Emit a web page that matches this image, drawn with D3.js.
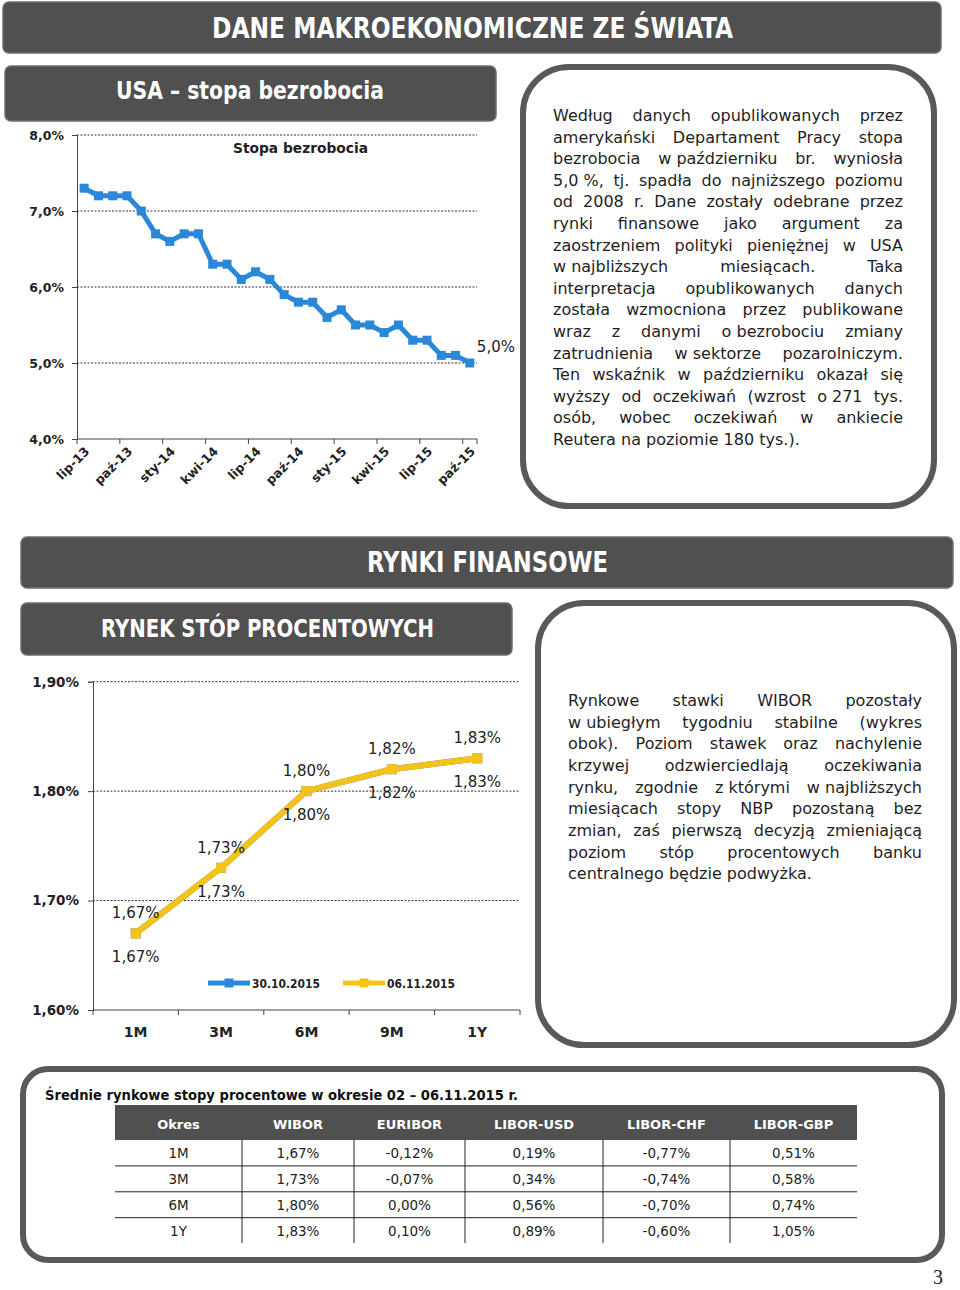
<!DOCTYPE html>
<html>
<head>
<meta charset="utf-8">
<script src="https://cdn.jsdelivr.net/npm/d3@7"></script>
<style>
  html, body { margin: 0; padding: 0; background: #fff; }
  #page { position: relative; width: 960px; height: 1290px; background: #fff; overflow: hidden; }
</style>
</head>
<body>
<div id="page"></div>
<script>
// ---------------- DATA ----------------
const usaMonths = ["lip-13","sie-13","wrz-13","paź-13","lis-13","gru-13","sty-14","lut-14","mar-14","kwi-14","maj-14","cze-14","lip-14","sie-14","wrz-14","paź-14","lis-14","gru-14","sty-15","lut-15","mar-15","kwi-15","maj-15","cze-15","lip-15","sie-15","wrz-15","paź-15"];
const usaRate = [7.3,7.2,7.2,7.2,7.0,6.7,6.6,6.7,6.7,6.3,6.3,6.1,6.2,6.1,5.9,5.8,5.8,5.6,5.7,5.5,5.5,5.4,5.5,5.3,5.3,5.1,5.1,5.0];
const usaTicks = [4,5,6,7,8];
const usaTitle = "Stopa bezrobocia";

const tenors = ["1M","3M","6M","9M","1Y"];
const wibor3010 = [1.67,1.73,1.80,1.82,1.83];
const wibor0611 = [1.67,1.73,1.80,1.82,1.83];
const rateTicks = [1.60,1.70,1.80,1.90];
const seriesNames = ["30.10.2015","06.11.2015"];

const tableTitle = "Średnie rynkowe stopy procentowe w okresie 02 – 06.11.2015 r.";
const tableHeader = ["Okres","WIBOR","EURIBOR","LIBOR-USD","LIBOR-CHF","LIBOR-GBP"];
const tableRows = [
  ["1M","1,67%","-0,12%","0,19%","-0,77%","0,51%"],
  ["3M","1,73%","-0,07%","0,34%","-0,74%","0,58%"],
  ["6M","1,80%","0,00%","0,56%","-0,70%","0,74%"],
  ["1Y","1,83%","0,10%","0,89%","-0,60%","1,05%"]
];

const para1 = [
  "Według danych opublikowanych przez",
  "amerykański Departament Pracy stopa",
  "bezrobocia w\u00a0październiku br. wyniosła",
  "5,0\u00a0%, tj. spadła do najniższego poziomu",
  "od 2008 r. Dane zostały odebrane przez",
  "rynki finansowe jako argument za",
  "zaostrzeniem polityki pieniężnej w USA",
  "w\u00a0najbliższych miesiącach. Taka",
  "interpretacja opublikowanych danych",
  "została wzmocniona przez publikowane",
  "wraz z danymi o\u00a0bezrobociu zmiany",
  "zatrudnienia w\u00a0sektorze pozarolniczym.",
  "Ten wskaźnik w październiku okazał się",
  "wyższy od oczekiwań (wzrost o\u00a0271 tys.",
  "osób, wobec oczekiwań w ankiecie",
  "Reutera na poziomie 180 tys.)."
];
const para2 = [
  "Rynkowe stawki WIBOR pozostały",
  "w\u00a0ubiegłym tygodniu stabilne (wykres",
  "obok). Poziom stawek oraz nachylenie",
  "krzywej odzwierciedlają oczekiwania",
  "rynku, zgodnie z\u00a0którymi w\u00a0najbliższych",
  "miesiącach stopy NBP pozostaną bez",
  "zmian, zaś pierwszą decyzją zmieniającą",
  "poziom stóp procentowych banku",
  "centralnego będzie podwyżka."
];

// ---------------- SETUP ----------------
const pl = d3.formatLocale({decimal: ",", thousands: " ", grouping: [3], currency: ["", " zł"]});
const f1 = v => pl.format(".1f")(v) + "%";
const f2 = v => pl.format(".2f")(v) + "%";

const svg = d3.select("#page").append("svg")
  .attr("width", 960).attr("height", 1290)
  .style("position", "absolute").style("left", 0).style("top", 0);

const BODY = "'DejaVu Sans', 'Noto Sans', sans-serif";
const COND = "'DejaVu Sans Condensed', 'DejaVu Sans', sans-serif";
const DARK = "#505050";
const TXT = "#1e1e1e";

function banner(x, y, w, h, text, tx, tw, base, fs) {
  svg.append("rect").attr("x", x).attr("y", y).attr("width", w).attr("height", h)
    .attr("rx", 6).attr("fill", DARK).attr("stroke", "#6e6e6e").attr("stroke-width", 1.5);
  svg.append("text").attr("x", tx).attr("y", base)
    .attr("font-family", COND).attr("font-weight", "bold").attr("font-size", fs)
    .attr("fill", "#fff").attr("textLength", tw).attr("lengthAdjust", "spacingAndGlyphs")
    .text(text);
}
function box(x, y, w, h, r) {
  svg.append("rect").attr("x", x).attr("y", y).attr("width", w).attr("height", h)
    .attr("rx", r).attr("fill", "#fff").attr("stroke", "#595959").attr("stroke-width", 6);
}
function para(lines, x0, x1, y0, lh) {
  const g = svg.append("g").attr("font-family", BODY).attr("font-size", 16).attr("fill", TXT);
  const tmp = g.append("text").text("a a");
  const wa = tmp.node().getComputedTextLength();
  tmp.text("aa");
  const spaceW = wa - tmp.node().getComputedTextLength();
  tmp.remove();
  lines.forEach((ln, i) => {
    const words = ln.split(" ");
    const t = g.append("text").attr("y", y0 + i * lh);
    const spans = words.map(w => t.append("tspan").text(w));
    const widths = spans.map(s => s.node().getComputedTextLength());
    const last = i === lines.length - 1;
    const total = d3.sum(widths);
    const gap = (last || words.length < 2) ? spaceW : (x1 - x0 - total) / (words.length - 1);
    let x = x0;
    spans.forEach((s, j) => { s.attr("x", x); x += widths[j] + gap; });
  });
}

// ---------------- BANNERS & BOXES ----------------
banner(3, 2, 938, 51, "DANE MAKROEKONOMICZNE ZE ŚWIATA", 212, 521, 38, 28);
banner(5, 66, 491, 55, "USA – stopa bezrobocia", 116, 268, 99, 25);
banner(21, 537, 932, 51, "RYNKI FINANSOWE", 367, 241, 572, 28);
banner(21, 603, 491, 52, "RYNEK STÓP PROCENTOWYCH", 101, 333, 637, 25);

box(523, 67, 411, 439, 46);
box(538, 603, 416, 442, 46);
box(23, 1069, 919, 191, 25);

para(para1, 553, 903, 121, 21.6);
para(para2, 568, 922, 706, 21.67);

// ---------------- USA CHART ----------------
(function () {
  const x = d3.scaleBand().domain(usaMonths).range([77, 477]).padding(0);
  const y = d3.scaleLinear().domain([4, 8]).range([439, 135]);
  const bw = x.bandwidth();
  const g = svg.append("g");

  g.selectAll("line.grid").data(usaTicks.filter(v => v > 4)).join("line")
    .attr("x1", 77).attr("x2", 477).attr("y1", d => y(d)).attr("y2", d => y(d))
    .attr("stroke", "#333").attr("stroke-width", 1).attr("stroke-dasharray", "2,1.5");

  const ya = g.append("g").attr("transform", "translate(77,0)")
    .call(d3.axisLeft(y).tickValues(usaTicks).tickSize(5).tickFormat(f1));
  ya.select(".domain").attr("stroke", "#444");
  ya.selectAll(".tick line").attr("stroke", "#444");
  ya.selectAll(".tick text").attr("font-family", BODY).attr("font-weight", "bold")
    .attr("font-size", 12.5).attr("fill", "#222").attr("x", -13);

  g.append("line").attr("x1", 77).attr("x2", 477).attr("y1", 439).attr("y2", 439)
    .attr("stroke", "#444");
  const bounds = d3.range(0, usaMonths.length + 1).filter(i => i % 3 === 0 || i === usaMonths.length);
  g.selectAll("line.xt").data(bounds).join("line")
    .attr("x1", i => x.range()[0] + i * x.step()).attr("x2", i => x.range()[0] + i * x.step())
    .attr("y1", 439).attr("y2", 444).attr("stroke", "#444");
  g.selectAll("text.xl").data(usaMonths.filter((d, i) => i % 3 === 0)).join("text")
    .attr("transform", d => `translate(${x(d) + bw / 2 + 3},449) rotate(-45)`)
    .attr("text-anchor", "end").attr("dy", "0.35em")
    .attr("font-family", BODY).attr("font-weight", "bold").attr("font-size", 12.5).attr("fill", "#222")
    .text(d => d);

  const pts = usaMonths.map((m, i) => ({m, v: usaRate[i]}));
  const color = "#2B88D8";
  g.append("path").datum(pts)
    .attr("d", d3.line().x(d => x(d.m) + bw / 2).y(d => y(d.v)))
    .attr("fill", "none").attr("stroke", color).attr("stroke-width", 5).attr("stroke-linejoin", "round");
  g.selectAll("rect.mk").data(pts).join("rect")
    .attr("x", d => x(d.m) + bw / 2 - 4.5).attr("y", d => y(d.v) - 4.5)
    .attr("width", 9).attr("height", 9).attr("fill", color);

  const lastP = pts[pts.length - 1];
  g.append("text").attr("x", x(lastP.m) + bw / 2 + 7).attr("y", y(lastP.v) - 11)
    .attr("font-family", BODY).attr("font-size", 15).attr("fill", "#222")
    .text(f1(lastP.v));

  g.append("text").attr("x", 233).attr("y", 153)
    .attr("font-family", BODY).attr("font-weight", "bold").attr("font-size", 14).attr("fill", "#222")
    .attr("textLength", 135).attr("lengthAdjust", "spacingAndGlyphs")
    .text(usaTitle);
})();

// ---------------- RATES CHART ----------------
(function () {
  const x = d3.scaleBand().domain(tenors).range([93, 520]).padding(0);
  const y = d3.scaleLinear().domain([1.6, 1.9]).range([1010, 681.7]);
  const bw = x.bandwidth();
  const g = svg.append("g");

  g.selectAll("line.grid").data(rateTicks.filter(v => v > 1.6)).join("line")
    .attr("x1", 93).attr("x2", 520).attr("y1", d => y(d)).attr("y2", d => y(d))
    .attr("stroke", "#333").attr("stroke-width", 1).attr("stroke-dasharray", "2,1.5");

  const ya = g.append("g").attr("transform", "translate(93,0)")
    .call(d3.axisLeft(y).tickValues(rateTicks).tickSize(5).tickFormat(f2));
  ya.select(".domain").attr("stroke", "#444");
  ya.selectAll(".tick line").attr("stroke", "#444");
  ya.selectAll(".tick text").attr("font-family", BODY).attr("font-weight", "bold")
    .attr("font-size", 13.5).attr("fill", "#222").attr("x", -14);

  g.append("line").attr("x1", 93).attr("x2", 520).attr("y1", 1010).attr("y2", 1010).attr("stroke", "#444");
  g.selectAll("line.xt").data(d3.range(0, tenors.length + 1)).join("line")
    .attr("x1", i => x.range()[0] + i * x.step()).attr("x2", i => x.range()[0] + i * x.step())
    .attr("y1", 1010).attr("y2", 1015).attr("stroke", "#444");
  g.selectAll("text.xl").data(tenors).join("text")
    .attr("x", d => x(d) + bw / 2).attr("y", 1037).attr("text-anchor", "middle")
    .attr("font-family", BODY).attr("font-weight", "bold").attr("font-size", 14).attr("fill", "#222")
    .text(d => d);

  const series = [
    {name: seriesNames[0], vals: wibor3010, color: "#2B88D8", dy: 29},
    {name: seriesNames[1], vals: wibor0611, color: "#F5C316", dy: -15}
  ];
  series.forEach(s => {
    const pts = tenors.map((t, i) => ({t, v: s.vals[i]}));
    g.append("path").datum(pts)
      .attr("d", d3.line().x(d => x(d.t) + bw / 2).y(d => y(d.v)))
      .attr("fill", "none").attr("stroke", s.color).attr("stroke-width", 6).attr("stroke-linejoin", "round");
    g.selectAll(null).data(pts).join("rect")
      .attr("x", d => x(d.t) + bw / 2 - 5).attr("y", d => y(d.v) - 5)
      .attr("width", 10).attr("height", 10).attr("fill", s.color);
  });
  series.forEach(s => {
    const pts = tenors.map((t, i) => ({t, v: s.vals[i]}));
    g.selectAll(null).data(pts).join("text")
      .attr("x", d => x(d.t) + bw / 2).attr("y", d => y(d.v) + s.dy)
      .attr("text-anchor", "middle")
      .attr("font-family", BODY).attr("font-size", 15).attr("fill", "#222")
      .text(d => f2(d.v));
  });

  const lg = [{x0: 208, name: series[0].name, color: series[0].color},
              {x0: 343, name: series[1].name, color: series[1].color}];
  lg.forEach(l => {
    g.append("line").attr("x1", l.x0).attr("x2", l.x0 + 42).attr("y1", 983).attr("y2", 983)
      .attr("stroke", l.color).attr("stroke-width", 5);
    g.append("rect").attr("x", l.x0 + 16.5).attr("y", 978.5).attr("width", 9).attr("height", 9).attr("fill", l.color);
    g.append("text").attr("x", l.x0 + 44).attr("y", 987.5)
      .attr("font-family", BODY).attr("font-weight", "bold").attr("font-size", 12).attr("fill", "#222")
      .attr("textLength", 68).attr("lengthAdjust", "spacingAndGlyphs")
      .text(l.name);
  });
})();

// ---------------- TABLE ----------------
(function () {
  const cols = [115, 242, 354, 465, 603, 730, 857];
  const g = svg.append("g");
  g.append("text").attr("x", 45).attr("y", 1100)
    .attr("font-family", BODY).attr("font-weight", "bold").attr("font-size", 14).attr("fill", "#111")
    .attr("textLength", 473).attr("lengthAdjust", "spacingAndGlyphs")
    .text(tableTitle);
  g.append("rect").attr("x", 115).attr("y", 1105).attr("width", 742).attr("height", 35).attr("fill", DARK);
  tableHeader.forEach((h, i) => {
    g.append("text").attr("x", (cols[i] + cols[i + 1]) / 2).attr("y", 1129).attr("text-anchor", "middle")
      .attr("font-family", BODY).attr("font-weight", "bold").attr("font-size", 13).attr("fill", "#fff")
      .text(h);
  });
  const rh = 25.9, top = 1140;
  for (let r = 1; r < tableRows.length; r++) {
    g.append("line").attr("x1", 115).attr("x2", 857).attr("y1", top + r * rh).attr("y2", top + r * rh)
      .attr("stroke", "#222").attr("stroke-width", 1);
  }
  cols.slice(1, -1).forEach(cx => {
    g.append("line").attr("x1", cx).attr("x2", cx).attr("y1", top).attr("y2", top + tableRows.length * rh - 0.5)
      .attr("stroke", "#222").attr("stroke-width", 1);
  });
  tableRows.forEach((row, r) => {
    row.forEach((c, i) => {
      g.append("text").attr("x", (cols[i] + cols[i + 1]) / 2).attr("y", top + r * rh + rh / 2 + 5)
        .attr("text-anchor", "middle").attr("font-family", BODY).attr("font-size", 13.5).attr("fill", "#222")
        .text(c);
    });
  });
})();

// page number
svg.append("text").attr("x", 938).attr("y", 1284).attr("text-anchor", "middle")
  .attr("font-family", "'Liberation Serif', 'DejaVu Serif', serif").attr("font-size", 20).attr("fill", "#222")
  .text("3");
</script>
</body>
</html>
